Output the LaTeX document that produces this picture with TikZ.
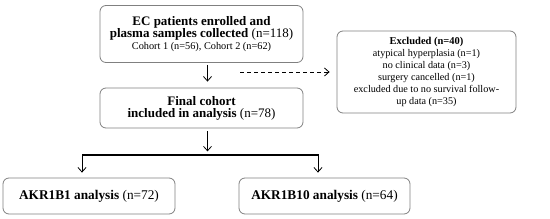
\documentclass[tikz,border=0pt]{standalone}
\usepackage{fontspec}
\setmainfont{Liberation Serif}
\usetikzlibrary{arrows.meta}
\begin{document}
\begin{tikzpicture}[x=1pt,y=-1pt,
  box/.style={draw=black!50, line width=0.8pt, rounded corners=6pt, align=center, inner sep=0pt},
  arr/.style={line width=0.8pt, -{Straight Barb[length=4.5pt,width=8pt]}},
  darr/.style={line width=0.8pt, dash pattern=on 4pt off 3pt, -{Straight Barb[length=4.5pt,width=8pt]}}]
\useasboundingbox (0,0) rectangle (550,219);
\node[box, minimum width=203pt, minimum height=57pt] (b1) at (201.5,34)
  {\fontsize{13}{14}\selectfont\textbf{EC patients enrolled and}\\
   \fontsize{13}{14}\selectfont\textbf{plasma samples collected} (n=118)\\
   \fontsize{10.3}{12}\selectfont Cohort 1 (n=56), Cohort 2 (n=62)};
\node[box, minimum width=179pt, minimum height=82pt] (ex) at (426.5,72)
  {\fontsize{10.5}{10.4}\selectfont\textbf{Excluded (n=40)}\\
   \fontsize{10.2}{10.4}\selectfont atypical hyperplasia (n=1)\\
   \fontsize{10.2}{10.4}\selectfont no clinical data (n=3)\\
   \fontsize{10.2}{10.4}\selectfont surgery cancelled (n=1)\\
   \fontsize{10.2}{10.4}\selectfont excluded due to no survival follow-\\
   \fontsize{10.2}{10.4}\selectfont up data (n=35)};
\node[box, minimum width=203pt, minimum height=40pt] (b2) at (201.5,108)
  {\fontsize{13}{15}\selectfont\textbf{Final cohort}\\
   \fontsize{13}{15}\selectfont\textbf{included in analysis} (n=78)};
\node[box, minimum width=172pt, minimum height=36pt] (a1) at (89,196)
  {\fontsize{13.3}{15}\selectfont\textbf{AKR1B1 analysis} (n=72)};
\node[box, minimum width=171pt, minimum height=36pt] (a2) at (324.5,196)
  {\fontsize{13.3}{15}\selectfont\textbf{AKR1B10 analysis} (n=64)};
\coordinate (ds) at (240,72);
\coordinate (bl) at (82,155);
\coordinate (br) at (318,155);
\draw[arr] ([xshift=6pt,yshift=-2pt]b1.south) -- ([xshift=6pt,yshift=6pt]b2.north);
\draw[darr] (ds) -- ([xshift=-7pt]ex.west |- ds);
\draw[arr] ([xshift=6pt,yshift=-3pt]b2.south) -- ([xshift=6pt,yshift=-23pt]b2.south);
\draw[line width=1.8pt] (bl) -- (br);
\draw[arr] ([yshift=0.9pt]bl) -- ([yshift=5pt]a1.north -| bl);
\draw[arr] ([yshift=0.9pt]br) -- ([yshift=5pt]a2.north -| br);
\end{tikzpicture}
\end{document}
